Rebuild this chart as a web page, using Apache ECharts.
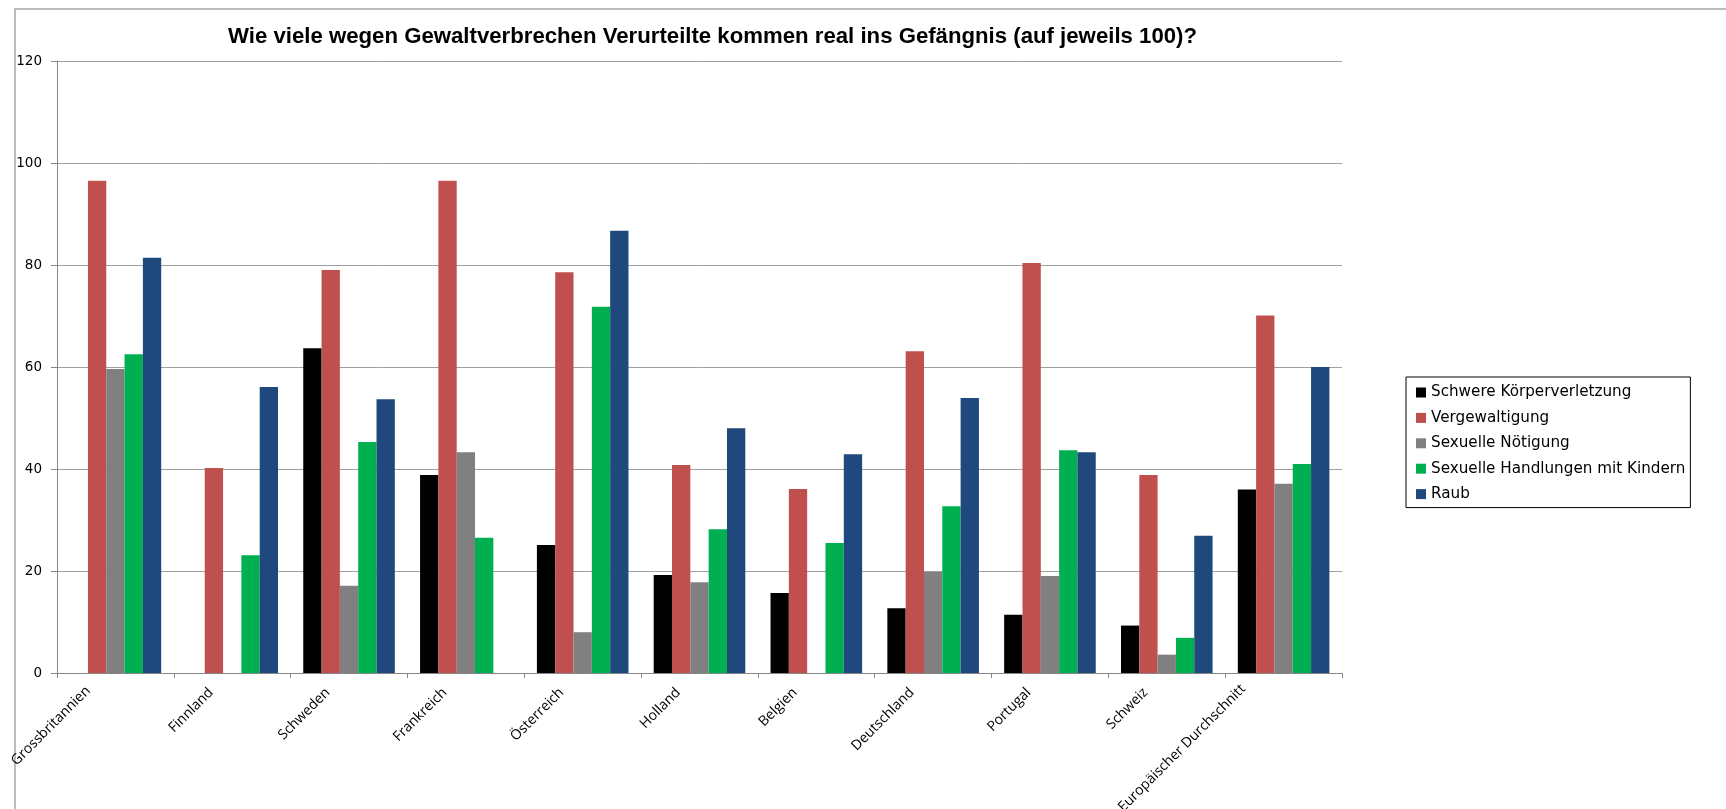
<!DOCTYPE html>
<html>
<head>
<meta charset="utf-8">
<script src="https://cdn.jsdelivr.net/npm/echarts@6/dist/echarts.min.js"></script>
<style>
html,body{margin:0;padding:0;background:#fff;}
#c{width:1726px;height:809px;}
</style>
</head>
<body>
<div id="c"></div>
<script>
const titleText = 'Wie viele wegen Gewaltverbrechen Verurteilte kommen real ins Gefängnis (auf jeweils 100)?';
const categories = ['Grossbritannien','Finnland','Schweden','Frankreich','Österreich','Holland','Belgien','Deutschland','Portugal','Schweiz','Europäischer Durchschnitt'];
const seriesNames = ['Schwere Körperverletzung','Vergewaltigung','Sexuelle Nötigung','Sexuelle Handlungen mit Kindern','Raub'];
const schwereKoerperverletzung = [null, null, 63.7, 38.8, 25.1, 19.2, 15.7, 12.7, 11.4, 9.3, 36.0];
const vergewaltigung = [96.5, 40.2, 79.0, 96.5, 78.6, 40.8, 36.1, 63.1, 80.4, 38.8, 70.1];
const sexuelleNoetigung = [59.6, null, 17.1, 43.3, 8.0, 17.8, null, 19.8, 19.0, 3.6, 37.1];
const handlungenKinder = [62.5, 23.1, 45.3, 26.5, 71.8, 28.2, 25.5, 32.7, 43.7, 6.9, 41.0];
const raub = [81.4, 56.1, 53.7, null, 86.7, 48.0, 42.9, 53.9, 43.3, 26.9, 60.0];
const yTicks = [0, 20, 40, 60, 80, 100, 120];
const colors = ['#000000','#C0504D','#808080','#00B050','#1F497D'];

const allValues = [schwereKoerperverletzung, vergewaltigung, sexuelleNoetigung, handlungenKinder, raub];

const chart = echarts.init(document.getElementById('c'));
const option = {
  animation: false,
  backgroundColor: '#fff',
  title: {
    text: titleText,
    left: 228, top: 26, padding: 0,
    textStyle: {fontFamily: '"Liberation Sans", Arial, sans-serif', fontWeight: 'bold', fontSize: 22.2, color: '#000'}
  },
  graphic: [{
    type: 'polyline', silent: true,
    shape: {points: [[15, 809], [15, 9], [1726, 9]]},
    style: {stroke: '#A6A6A6', lineWidth: 1.5, fill: null}
  }],
  legend: {
    orient: 'vertical', left: 1406, top: 377,
    data: seriesNames,
    icon: 'rect', itemWidth: 10, itemHeight: 10, itemGap: 10.4,
    borderColor: '#000', borderWidth: 1, padding: [8, 5, 6, 10],
    textStyle: {fontFamily: '"DejaVu Sans", sans-serif', fontSize: 15.2, color: '#000', lineHeight: 15}
  },
  grid: {left: 57, right: 384, top: 61, bottom: 136, containLabel: false, outerBoundsMode: 'none'},
  xAxis: {
    type: 'category', data: categories,
    axisLine: {show: true, lineStyle: {color: '#868686', width: 1}},
    axisTick: {show: true, length: 5, lineStyle: {color: '#868686'}},
    axisLabel: {
      interval: 0, rotate: 45, margin: 6, hideOverlap: false,
      fontFamily: '"Open Sans", sans-serif', fontSize: 14, color: '#000',
      formatter: function (v) {
        if (v === 'Grossbritannien') return '{g|' + v + '}';
        if (v === 'Europäischer Durchschnitt') return '{e|' + v + '}';
        return '{n|' + v + '}';
      },
      rich: {
        n: {fontFamily: '"Open Sans", sans-serif', fontSize: 14, color: '#000', padding: [0, 23, 14, 0]},
        g: {fontFamily: '"Open Sans", sans-serif', fontSize: 14, color: '#000', padding: [0, 26, 25, 0]},
        e: {fontFamily: '"Open Sans", sans-serif', fontSize: 14, color: '#000', padding: [0, 34, 46, 0]}
      }
    },
    splitLine: {show: false}
  },
  yAxis: {
    type: 'value', min: yTicks[0], max: yTicks[yTicks.length - 1], interval: 20,
    axisLine: {show: true, lineStyle: {color: '#868686', width: 1}},
    axisTick: {show: true, length: 6, lineStyle: {color: '#868686'}},
    axisLabel: {margin: 15, fontFamily: '"DejaVu Sans", Verdana, sans-serif', fontSize: 13.5, color: '#000'},
    splitLine: {show: true, lineStyle: {color: '#A0A0A0', width: 1}}
  },
  series: seriesNames.map((name, i) => ({
    name: name, type: 'bar', data: allValues[i],
    itemStyle: {color: colors[i]},
    barGap: '0%', barCategoryGap: '21.6%'
  }))
};
chart.setOption(option);
</script>
</body>
</html>
